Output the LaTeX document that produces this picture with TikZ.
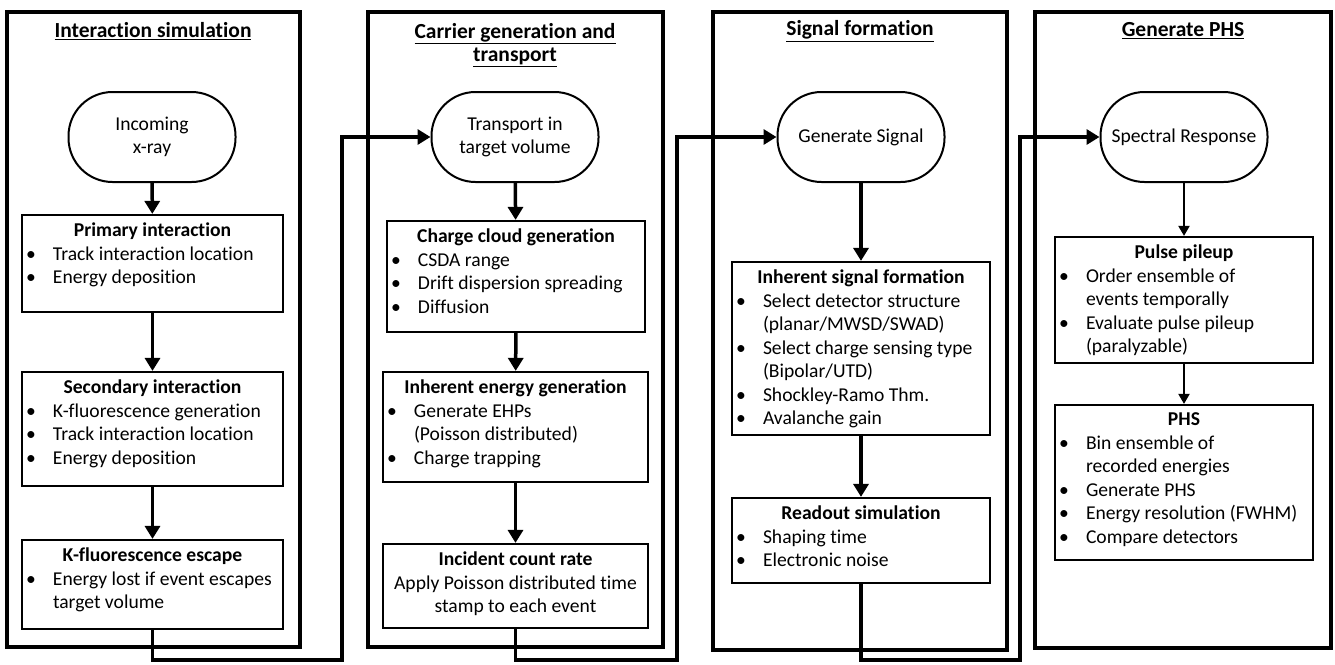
\documentclass[tikz,border=0pt]{standalone}
\usepackage{fontspec}
\setmainfont{Carlito}[Ligatures=CommonOff]
\usetikzlibrary{arrows.meta}

\newcommand{\itm}[1]{\makebox[31pt][l]{\hspace{4pt}\textbullet}#1\par}
\newcommand{\nxt}[1]{\hspace*{31pt}#1\par}
\newcommand{\hd}[1]{{\centering\textbf{#1}\par}}
\newcommand{\boxbody}[3]{\parbox[c][#2][t]{#1}{\raggedright\vspace*{8pt}#3}}

\begin{document}
\fontsize{19.6}{23.5}\selectfont
\begin{tikzpicture}[x=1pt, y=-1pt,
    stage/.style={draw, line width=3.5pt, inner sep=0pt},
    title/.style={font=\fontsize{21.5}{23}\selectfont\bfseries, align=center},
    term/.style={draw, line width=2pt, rounded corners=44pt, minimum width=167pt, minimum height=90pt, align=center},
    inbox/.style={draw, line width=2.2pt, inner sep=0pt},
    arrow/.style={-{Triangle[width=15pt,length=13pt]}, line width=3.5pt},
    thinarrow/.style={-{Triangle[width=11pt,length=10pt]}, line width=2pt}
  ]
    \useasboundingbox (0,0) rectangle (1335,664);

    % interaction simulation
    \node[stage, minimum width=293pt, minimum height=635pt] (col1) at (153.5,329.5) {};
    \node[title] (t1) at (153,31) {\underline{Interaction simulation}};
    \node[term] (inc) at (152,137) {Incoming\\x-ray};
    \node[inbox] (prim) at (152.5,263.5) {\boxbody{261pt}{97pt}{\hd{Primary interaction}\itm{Track interaction location}\itm{Energy deposition}}};
    \node[inbox] (sec) at (152.5,429) {\boxbody{261pt}{114pt}{\hd{Secondary interaction}\itm{K-fluorescence generation}\itm{Track interaction location}\itm{Energy deposition}}};
    \node[inbox] (esc) at (152.5,584.5) {\boxbody{261pt}{89pt}{\hd{K-fluorescence escape}\itm{Energy lost if event escapes}\nxt{target volume}}};
    \draw[arrow] (inc) -- (prim);
    \draw[arrow] (prim) -- (sec);
    \draw[arrow] (sec) -- (esc);

    % carrier generation and transport
    \node[stage, minimum width=295pt, minimum height=635pt] (col2) at (515.5,329.5) {};
    \node[title] (t2) at (515,45) {\underline{Carrier generation and}\\\underline{transport}};
    \node[term] (trans) at (515,137) {Transport in\\target volume};
    \node[inbox] (cloud) at (516,276.5) {\boxbody{258pt}{111pt}{\hd{Charge cloud generation}\itm{CSDA range}\itm{Drift dispersion spreading}\itm{Diffusion}}};
    \node[inbox] (ehp) at (515.5,427) {\boxbody{265pt}{110pt}{\hd{Inherent energy generation}\itm{Generate EHPs}\nxt{(Poisson distributed)}\itm{Charge trapping}}};
    \node[inbox] (rate) at (515.5,586) {\boxbody{265pt}{84pt}{\hd{Incident count rate}{\centering Apply Poisson distributed time\\stamp to each event\par}}};
    \draw[arrow] (trans) -- (cloud);
    \draw[arrow] (cloud) -- (ehp);
    \draw[arrow] (ehp) -- (rate);

    % signal formation
    \node[stage, minimum width=294pt, minimum height=638pt] (col3) at (860,331) {};
    \node[title] (t3) at (860,31) {\underline{Signal formation}};
    \node[term] (gsig) at (861,137) {Generate Signal};
    \node[inbox] (isf) at (861,348.5) {\boxbody{258pt}{173pt}{\hd{Inherent signal formation}\itm{Select detector structure}\nxt{(planar/MWSD/SWAD)}\itm{Select charge sensing type}\nxt{(Bipolar/UTD)}\itm{Shockley-Ramo Thm.}\itm{Avalanche gain}}};
    \node[inbox] (rdo) at (861,540.5) {\boxbody{258pt}{85pt}{\hd{Readout simulation}\itm{Shaping time}\itm{Electronic noise}}};
    \draw[arrow] (gsig) -- (isf);
    \draw[arrow] (isf) -- (rdo);

    % generate PHS
    \node[stage, minimum width=296pt, minimum height=636pt] (col4) at (1183,330) {};
    \node[title] (t4) at (1183,31) {\underline{Generate PHS}};
    \node[term] (spec) at (1184,137) {Spectral Response};
    \node[inbox] (pile) at (1184,300) {\boxbody{258pt}{126pt}{\hd{Pulse pileup}\itm{Order ensemble of}\nxt{events temporally}\itm{Evaluate pulse pileup}\nxt{(paralyzable)}}};
    \node[inbox] (phs) at (1184,482.5) {\boxbody{258pt}{155pt}{\hd{PHS}\itm{Bin ensemble of}\nxt{recorded energies}\itm{Generate PHS}\itm{Energy resolution (FWHM)}\itm{Compare detectors}}};
    \draw[thinarrow] (spec) -- (pile);
    \draw[thinarrow] (pile) -- (phs);

    % links between stages
    \coordinate (c1) at (342,660);
    \coordinate (c2) at (677,660);
    \coordinate (c3) at (1020,660);
    \draw[arrow] (esc.south) |- (c1) |- (trans.west);
    \draw[arrow] (rate.south) |- (c2) |- (gsig.west);
    \draw[arrow] (rdo.south) |- (c3) |- (spec.west);
\end{tikzpicture}
\end{document}
